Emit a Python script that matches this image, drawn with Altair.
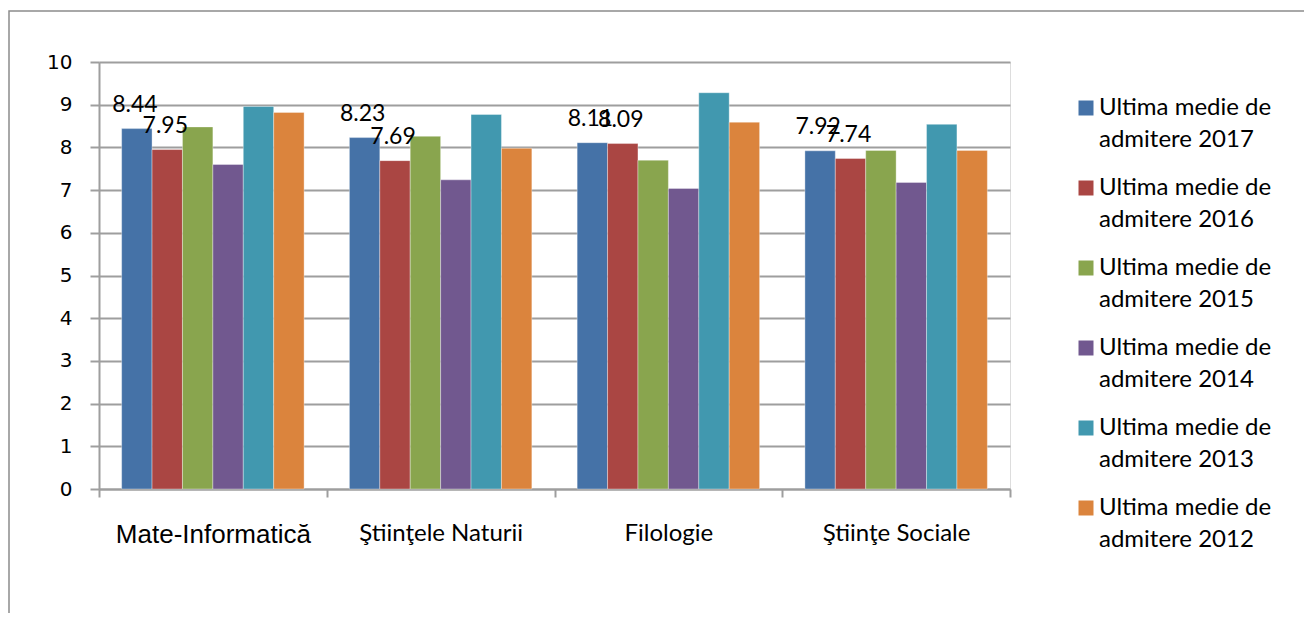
import altair as alt
import pandas as pd

categories = ["Mate-Informatică", "Ştiinţele Naturii", "Filologie", "Ştiinţe Sociale"]
series = ["2017", "2016", "2015", "2014", "2013", "2012"]
v2017 = [8.44, 8.23, 8.11, 7.92]
v2016 = [7.95, 7.69, 8.09, 7.74]
v2015 = [8.48, 8.26, 7.70, 7.93]
v2014 = [7.60, 7.24, 7.04, 7.18]
v2013 = [8.96, 8.77, 9.28, 8.54]
v2012 = [8.82, 7.98, 8.59, 7.93]
colors = ["#4572A7", "#AA4643", "#89A54E", "#71588F", "#4198AF", "#DB843D"]
labelled = ["2017", "2016"]

rows = []
for s, vals in zip(series, [v2017, v2016, v2015, v2014, v2013, v2012]):
    for c, v in zip(categories, vals):
        rows.append({"cat": c, "series": s, "value": v})
df = pd.DataFrame(rows)
lab_df = df[df["series"].isin(labelled)]

GRID = "#9E9E9E"

x = alt.X(
    "cat:N", sort=categories,
    scale=alt.Scale(paddingInner=0, paddingOuter=0),
    axis=alt.Axis(
        title=None, labelAngle=0, tickBand="extent", grid=False,
        domainColor=GRID, domainWidth=2, tickColor=GRID, tickWidth=2, tickSize=8,
        labelPadding=24, labelColor="#000000", labelLimit=300,
        labelFont=alt.ExprRef("datum.value == 'Mate-Informatică' ? 'Liberation Sans' : 'Lato'"),
        labelFontSize=alt.ExprRef("datum.value == 'Mate-Informatică' ? 26 : 24"),
    ),
)
xo = alt.XOffset("series:N", sort=series, scale=alt.Scale(paddingInner=0, paddingOuter=0.745))
y = alt.Y(
    "value:Q", scale=alt.Scale(domain=[0, 10], nice=False),
    axis=alt.Axis(
        title=None, values=list(range(11)), grid=True, gridColor=GRID, gridWidth=2,
        domainColor=GRID, domainWidth=2, tickColor=GRID, tickWidth=2, tickSize=9,
        labelPadding=18, labelFont="DejaVu Sans", labelFontSize=20, labelColor="#000000",
    ),
)

color = alt.Color(
    "series:N", sort=series,
    scale=alt.Scale(domain=series, range=colors),
    legend=alt.Legend(
        title=None, orient="none", legendX=975, legendY=34, padding=0,
        symbolType="square", symbolSize=225, symbolStrokeWidth=0, symbolOpacity=1,
        labelFont="Lato", labelFontSize=24, labelColor="#000000", labelLimit=400,
        labelOffset=1, rowPadding=24, labelBaseline="middle",
        labelExpr="['Ultima medie de', 'admitere ' + datum.label]",
    ),
)

frame = alt.Chart(pd.DataFrame({"a": [0]})).mark_rect(
    filled=False, stroke="#8C8C8C", strokeWidth=1.5
).encode(x=alt.value(-90), x2=alt.value(1400), y=alt.value(-51), y2=alt.value(800))

bars = alt.Chart(df).mark_bar(stroke="#FFFFFF", strokeOpacity=0.35, strokeWidth=1).encode(
    x=x, xOffset=xo, y=y, color=color
)

text = alt.Chart(lab_df).mark_text(
    font="Lato", fontSize=23, color="#000000", baseline="alphabetic", align="center", dy=-17, dx=-2
).encode(x=x, xOffset=xo, y=y, text=alt.Text("value:Q", format=".2f"))

chart = alt.layer(frame, bars, text).properties(
    width=911, height=427,
    autosize=alt.AutoSizeParams(type="none"),
    padding={"left": 91, "top": 54, "right": 294, "bottom": 124},
).configure_view(strokeWidth=0).configure(
    style={"guide-label": {"lineHeight": 32}}
)

chart.save("out.html", embed_options={"renderer": "svg", "actions": False})
